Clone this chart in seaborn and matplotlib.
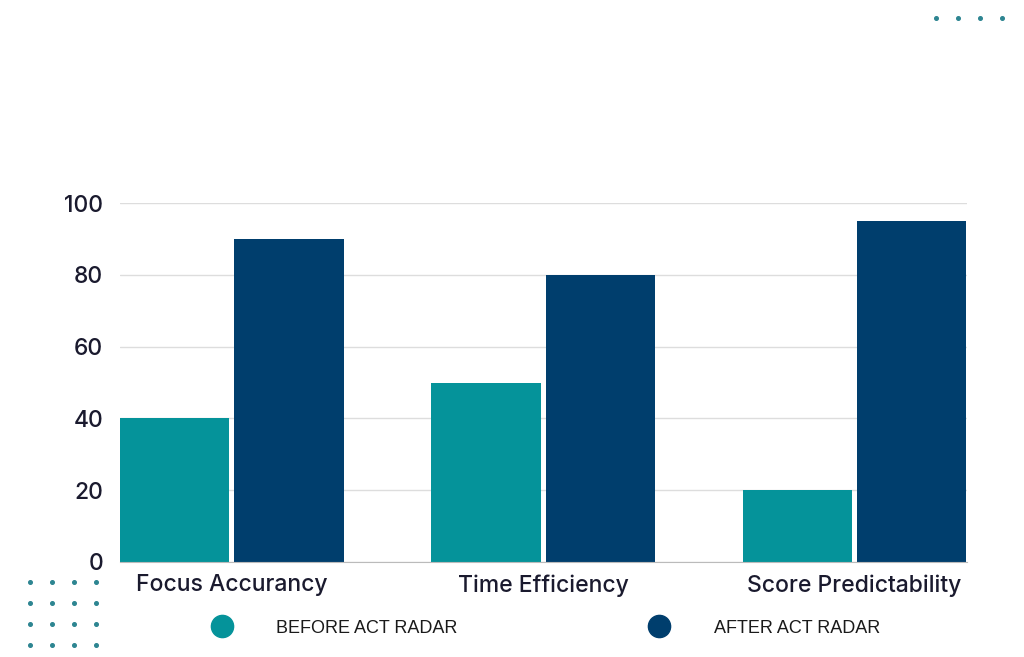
import numpy as np
import pandas as pd
import matplotlib
matplotlib.use("Agg")
import matplotlib.pyplot as plt
import seaborn as sns
from matplotlib.lines import Line2D

# chart data
categories = ["Focus Accurancy", "Time Efficiency", "Score Predictability"]
before_values = [40, 50, 20]
after_values = [90, 80, 95]
series_names = ["BEFORE ACT RADAR", "AFTER ACT RADAR"]
y_ticks = [0, 20, 40, 60, 80, 100]

TEAL = "#05939a"
NAVY = "#003e6d"

df = pd.DataFrame({
    "category": categories * 2,
    "value": before_values + after_values,
    "series": [series_names[0]] * 3 + [series_names[1]] * 3,
})

sns.set_style("white")
plt.rcParams["font.family"] = ["Inter", "DejaVu Sans"]

fig = plt.figure(figsize=(10.24, 6.57), dpi=100)
ax = fig.add_axes([0.117, 0.1446, 0.827, 0.5464])

sns.barplot(data=df, x="category", y="value", hue="series",
            palette=[TEAL, NAVY], width=0.735, gap=0.044,
            saturation=1, linewidth=0, legend=False, ax=ax)

ax.set_xlim(-0.36, 2.36)
ax.set_ylim(0, 100)
ax.set_yticks(y_ticks)
ax.yaxis.grid(True, color="#dddddd", linewidth=1)
ax.set_axisbelow(True)
for s in ["top", "right", "left"]:
    ax.spines[s].set_visible(False)
ax.spines["bottom"].set_color("#bbbbbb")
ax.set_xlabel("")
ax.set_ylabel("")
ax.tick_params(axis="y", labelsize=16.5, colors="#1a1a2e", length=0, pad=12)
ax.tick_params(axis="x", labelsize=16.5, colors="#1a1a2e", length=0, pad=9)
for lab in ax.get_xticklabels() + ax.get_yticklabels():
    lab.set_fontweight("medium")

# legend below
handles = [Line2D([], [], marker="o", linestyle="", markersize=16, color=c)
           for c in [TEAL, NAVY]]
leg = fig.legend(handles, series_names, loc="center", ncol=2,
                 bbox_to_anchor=(0.529, 0.044), frameon=False,
                 handletextpad=2.0, columnspacing=10.2,
                 prop={"family": "Liberation Sans", "size": 13})
for t in leg.get_texts():
    t.set_color("#1a1a1a")

# decorative dots
dot_color = "#2d8591"
tx = [936 / 1024, 958 / 1024, 980 / 1024, 1002 / 1024]
fig.add_artist(Line2D(tx, [1 - 18 / 657] * 4, transform=fig.transFigure,
                      marker="o", linestyle="", markersize=2.6, color=dot_color))
for yy in [582, 603, 624, 645]:
    xs = [30 / 1024, 52 / 1024, 74 / 1024, 96 / 1024]
    fig.add_artist(Line2D(xs, [1 - yy / 657] * 4, transform=fig.transFigure,
                          marker="o", linestyle="", markersize=2.6, color=dot_color))

fig.savefig("out.png", dpi=100)
